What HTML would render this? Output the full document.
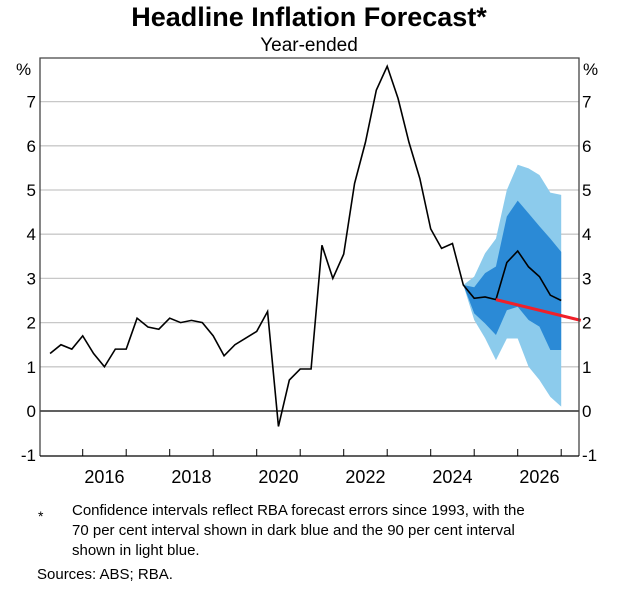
<!DOCTYPE html>
<html><head><meta charset="utf-8"><style>
body{margin:0;background:#fff;font-family:"Liberation Sans",Arial,sans-serif}
svg text{font-family:"Liberation Sans",Arial,sans-serif}
</style></head><body>
<svg width="631" height="586" viewBox="0 0 631 586">
<text x="309" y="26" text-anchor="middle" font-size="27" font-weight="bold">Headline Inflation Forecast*</text>
<text x="309" y="51" text-anchor="middle" font-size="19">Year-ended</text>
<g id="grid"></g>
<g id="bands"></g>
<g id="lines"></g>
<g id="axes"></g>
<text x="38" y="521" font-size="14">*</text>
<text font-size="15"><tspan x="72" y="515">Confidence intervals reflect RBA forecast errors since 1993, with the</tspan><tspan x="72" y="535">70 per cent interval shown in dark blue and the 90 per cent interval</tspan><tspan x="72" y="555">shown in light blue.</tspan></text>
<text x="37" y="579" font-size="15">Sources: ABS; RBA.</text>
</svg>
<script>
const histTimes=[2015.25,2015.5,2015.75,2016,2016.25,2016.5,2016.75,2017,2017.25,2017.5,2017.75,2018,2018.25,2018.5,2018.75,2019,2019.25,2019.5,2019.75,2020,2020.25,2020.5,2020.75,2021,2021.25,2021.5,2021.75,2022,2022.25,2022.5,2022.75,2023,2023.25,2023.5,2023.75,2024,2024.25,2024.5,2024.75,2025,2025.25,2025.5];
const histValues=[1.3,1.5,1.4,1.7,1.3,1.0,1.4,1.4,2.1,1.9,1.85,2.1,2.0,2.05,2.0,1.7,1.25,1.5,1.65,1.8,2.25,-0.35,0.7,0.95,0.95,3.75,3.0,3.55,5.15,6.08,7.26,7.8,7.07,6.08,5.26,4.12,3.68,3.79,2.85,2.55,2.58,2.52];
const fcTimes=[2025.5,2025.75,2026,2026.25,2026.5,2026.75,2027];
const fcValues=[2.52,3.36,3.62,3.26,3.04,2.62,2.5];
const bandTimes=[2024.75,2025,2025.25,2025.5,2025.75,2026,2026.25,2026.5,2026.75,2027];
const dark70Upper=[2.85,2.8,3.12,3.27,4.4,4.76,4.47,4.18,3.9,3.6];
const dark70Lower=[2.85,2.21,1.98,1.72,2.28,2.36,2.06,1.91,1.38,1.38];
const light90Upper=[2.85,3.04,3.57,3.9,5.0,5.57,5.49,5.34,4.94,4.89];
const light90Lower=[2.85,2.06,1.65,1.15,1.64,1.64,1.0,0.7,0.32,0.1];
const redTimes=[2025.5,2027.45];
const redValues=[2.52,2.05];
const yTicks=[-1,0,1,2,3,4,5,6,7];
const xLabels=["2016","2018","2020","2022","2024","2026"];

const NS="http://www.w3.org/2000/svg";
const L=40,R=579,T=58,B=456;
const x=t=>82.7+(t-2016)*43.5;
const y=v=>411-v*44.2;
function mk(tag,attrs,parent){const e=document.createElementNS(NS,tag);for(const k in attrs)e.setAttribute(k,attrs[k]);document.getElementById(parent).appendChild(e);return e;}
const g='grid';
yTicks.forEach(v=>{
  if(v>-1){const ln=mk('line',{x1:L,x2:R,y1:y(v),y2:y(v),stroke:v===0?'#000':'#c8c8c8','stroke-width':1.3},g);
  
  }
  const t1=mk('text',{x:L-4,y:y(v)+6,'text-anchor':'end','font-size':17},'axes');t1.textContent=v;
  
  
  const t2=mk('text',{x:R+3,y:y(v)+6,'font-size':17},'axes');t2.textContent=v;
  
  
});
const pl=mk('text',{x:16,y:75,'font-size':17},'axes');pl.textContent='%';


const pr=mk('text',{x:583,y:75,'font-size':17},'axes');pr.textContent='%';


const fr=mk('path',{d:`M${L},${B}V${T}H${R}V${B}`,fill:'none',stroke:'#444','stroke-width':1.3},'axes');


const xa=mk('line',{x1:L,x2:R,y1:B,y2:B,stroke:'#000','stroke-width':1.3},'axes');


for(let yr=2016;yr<=2027;yr++){const tk=mk('line',{x1:x(yr),x2:x(yr),y1:B,y2:B-7,stroke:'#000','stroke-width':1},'axes');

}
xLabels.forEach(s=>{const t=mk('text',{x:x(+s+0.5),y:B+27,'text-anchor':'middle','font-size':18},'axes');t.textContent=s;

});
function band(up,lo,col,name){let d='M'+bandTimes.map((t,i)=>x(t)+','+y(up[i])).join('L')+'L'+bandTimes.slice().reverse().map((t,i)=>x(t)+','+y(lo[lo.length-1-i])).join('L')+'Z';
const p=mk('path',{d:d,fill:col},'bands');

}
band(light90Upper,light90Lower,'#8ccbec','interval-90');
band(dark70Upper,dark70Lower,'#2b8ad6','interval-70');
function line(ts,vs,col,w,name){const p=mk('polyline',{points:ts.map((t,i)=>x(t)+','+y(vs[i])).join(' '),fill:'none',stroke:col,'stroke-width':w,'stroke-linejoin':'miter'},'lines');

}
line(histTimes,histValues,'#000',1.6,'actual-inflation-line');
line(fcTimes,fcValues,'#000',1.6,'forecast-line');
line(redTimes,redValues,'#f0202a',3,'red-reference-line');
</script>
</body></html>
